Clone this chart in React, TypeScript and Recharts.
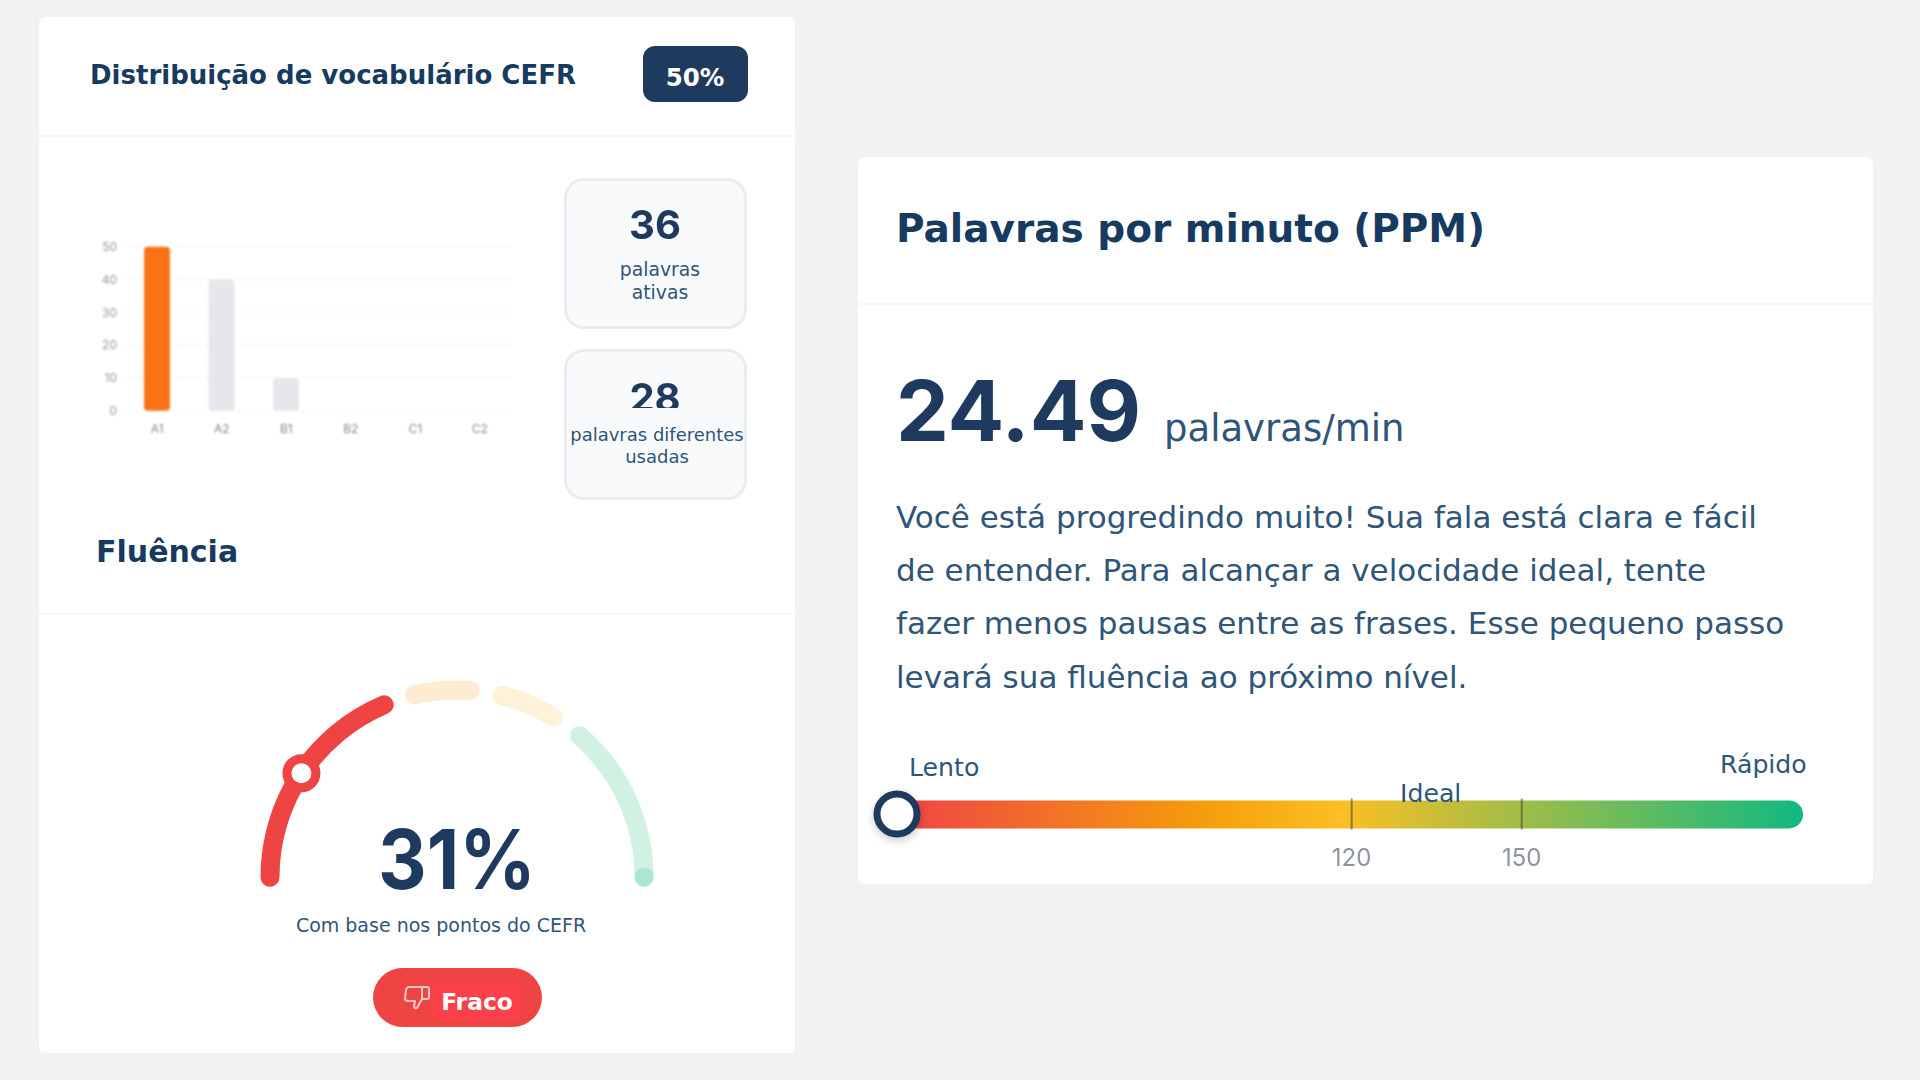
import React from 'react';
import {
  Bar,
  BarChart,
  CartesianGrid,
  Cell,
  Pie,
  PieChart,
  ReferenceDot,
  ReferenceLine,
  XAxis,
  YAxis,
} from 'recharts';

const NAVY = '#1e3a5f';
const TITLE = '#173a60';
const SLATE = '#2f5579';
const RED = '#ef4444';

// CEFR bars
const cefrLevels = ['A1', 'A2', 'B1', 'B2', 'C1', 'C2'];
const cefrValues = [50, 40, 10, 0, 0, 0];
const cefrTicks = [0, 10, 20, 30, 40, 50];
const cefrColors = ['#f97316', '#e5e7eb', '#e5e7eb', '#e5e7eb', '#e5e7eb', '#e5e7eb'];

// Gauge bands, in degrees of sweep
const gaugeBands = [73, 23, 23, 55];
const gaugeColors = [RED, '#feecd2', '#fef2d9', '#d1f2e3'];
const gaugeMarkerAngle = 146.3;

// PPM scale
const ppmDomain = [40, 199.6];
const ppmTicks = [120, 150];
const ppmValue = 24.49;

const paragraph = [
  'Você está progredindo muito! Sua fala está clara e fácil',
  'de entender. Para alcançar a velocidade ideal, tente',
  'fazer menos pausas entre as frases. Esse pequeno passo',
  'levará sua fluência ao próximo nível.',
];

const SANS = '"DejaVu Sans", sans-serif';
const NUM = 'Inter, sans-serif';

const cefrData = cefrLevels.map((level, i) => ({ level, value: cefrValues[i] }));
const gaugeData = gaugeBands.map((value, i) => ({ name: `band${i}`, value }));
const ppmData = [{ name: 'ppm', value: ppmDomain[1] }];

const box = (
  left: number,
  top: number,
  width: number,
  height: number,
  extra: React.CSSProperties = {},
): React.CSSProperties => ({ position: 'absolute', left, top, width, height, ...extra });

const GAUGE_LEFT = 230;
const GAUGE_TOP = 660;
const GAUGE_CX = 227;
const GAUGE_CY = 217;
const GAUGE_R = 187;

function polar(angle: number) {
  const rad = (angle * Math.PI) / 180;
  return {
    x: GAUGE_LEFT + GAUGE_CX + GAUGE_R * Math.cos(rad),
    y: GAUGE_TOP + GAUGE_CY - GAUGE_R * Math.sin(rad),
  };
}

export default function App() {
  const marker = polar(gaugeMarkerAngle);
  const gaugeEnd = polar(0);

  return (
    <div style={box(0, 0, 1920, 1080, { position: 'fixed', background: '#f3f2f0', fontFamily: SANS, overflow: 'hidden' })}>
      {/* cards */}
      <div style={box(39, 17, 756, 1036, { background: '#fff', borderRadius: 6 })} />
      <div style={box(858, 157, 1015, 727, { background: '#fff', borderRadius: 6 })} />
      <div style={box(39, 135, 756, 2, { background: '#f5f6f8' })} />
      <div style={box(39, 613, 756, 2, { background: '#f5f6f8' })} />
      <div style={box(858, 303, 1015, 2, { background: '#f5f6f8' })} />
      <div style={box(643, 46, 105, 56, { background: NAVY, borderRadius: 12 })} />
      <div style={box(564, 178, 183, 151, { background: '#f8fafc', border: '3px solid #e9ecf0', borderRadius: 20, boxSizing: 'border-box' })} />
      <div style={box(564, 349, 183, 151, { background: '#f8fafc', border: '3px solid #e9ecf0', borderRadius: 20, boxSizing: 'border-box' })} />
      <div style={box(373, 968, 169, 59, { background: RED, borderRadius: 30 })} />
      <div style={box(434, 982, 86, 38, { background: '#fb4049' })} />

      {/* CEFR bar chart */}
      <div style={box(80, 230, 440, 220, { filter: 'blur(0.9px)' })}>
        <BarChart
          width={440}
          height={220}
          data={cefrData}
          margin={{ top: 16.7, right: 8, bottom: 9.3, left: 0 }}
          barCategoryGap={0}
        >
          <CartesianGrid vertical={false} stroke="#f4f5f7" />
          <XAxis
            dataKey="level"
            height={30}
            axisLine={false}
            tickLine={false}
            tickMargin={8}
            tick={{ fontSize: 12, fill: '#7f8795', fontFamily: NUM }}
          />
          <YAxis
            width={45}
            domain={[0, 50]}
            ticks={cefrTicks}
            axisLine={false}
            tickLine={false}
            tick={{ fontSize: 12, fill: '#8f97a4', fontFamily: NUM }}
          />
          <Bar dataKey="value" barSize={26} radius={4} isAnimationActive={false}>
            {cefrLevels.map((level, i) => (
              <Cell key={level} fill={cefrColors[i]} />
            ))}
          </Bar>
        </BarChart>
      </div>

      {/* Gauge */}
      <div style={box(GAUGE_LEFT, GAUGE_TOP, 450, 300)}>
        <PieChart width={450} height={300} margin={{ top: 0, right: 0, bottom: 0, left: 0 }}>
          <Pie
            data={gaugeData}
            dataKey="value"
            cx={GAUGE_CX}
            cy={GAUGE_CY}
            startAngle={183}
            endAngle={-3}
            innerRadius={177.5}
            outerRadius={196.5}
            cornerRadius={9.5}
            paddingAngle={4}
            stroke="none"
            isAnimationActive={false}
          >
            {gaugeBands.map((_, i) => (
              <Cell key={i} fill={gaugeColors[i]} />
            ))}
          </Pie>
        </PieChart>
      </div>

      {/* PPM scale */}
      <div style={box(858, 780, 1000, 100)}>
        <BarChart
          width={1000}
          height={100}
          layout="vertical"
          data={ppmData}
          margin={{ top: 18.5, right: 55, bottom: 10.5, left: 40 }}
          barCategoryGap={0}
        >
          <defs>
            <linearGradient id="ppmGradient" x1="0" y1="0" x2="1" y2="0">
              <stop offset="0%" stopColor="#ef4444" />
              <stop offset="34%" stopColor="#f59e0b" />
              <stop offset="49%" stopColor="#fbbf24" />
              <stop offset="100%" stopColor="#10b981" />
            </linearGradient>
          </defs>
          <XAxis
            type="number"
            domain={ppmDomain}
            ticks={ppmTicks}
            height={40}
            axisLine={false}
            tickLine={false}
            tickMargin={13}
            tick={{ fontSize: 24, fill: '#8d949f', fontFamily: NUM, style: { filter: 'blur(0.6px)' } }}
          />
          <YAxis type="category" dataKey="name" hide />
          <Bar dataKey="value" barSize={31} radius={15.5} fill="url(#ppmGradient)" isAnimationActive={false} />
          {ppmTicks.map((t) => (
            <ReferenceLine key={t} x={t} stroke="rgba(60,60,60,0.55)" strokeWidth={2} />
          ))}
          <ReferenceDot
            x={Math.max(ppmValue, ppmDomain[0])}
            y="ppm"
            ifOverflow="visible"
            shape={(p: any) => (
              <circle
                cx={p.cx - 1}
                cy={p.cy}
                r={20}
                fill="#fff"
                stroke={NAVY}
                strokeWidth={7}
                style={{ filter: 'drop-shadow(0 3px 4px rgba(0,0,0,0.2))' }}
              />
            )}
          />
        </BarChart>
      </div>
      <div style={box(1366, 778, 130, 21, { background: '#fff' })} />

      {/* text */}
      <svg width={1920} height={1080} style={box(0, 0, 1920, 1080)}>
        <circle cx={gaugeEnd.x} cy={gaugeEnd.y} r={9.5} fill="#a9e7d0" />
        <circle cx={marker.x} cy={marker.y} r={14.5} fill="#fff" stroke={RED} strokeWidth={9} />
        <g fontFamily={SANS}>
          <text x={90} y={84} fontSize={26} fontWeight={700} fill={TITLE}>Distribuição de vocabulário CEFR</text>
          <text x={695} y={86} fontSize={24.5} fontWeight={700} fill="#fff" textAnchor="middle">50%</text>
          <text x={660} y={276} fontSize={18.8} fill={SLATE} textAnchor="middle">palavras</text>
          <text x={660} y={299} fontSize={18.8} fill={SLATE} textAnchor="middle">ativas</text>
          <text x={657} y={441} fontSize={18} fill={SLATE} textAnchor="middle">palavras diferentes</text>
          <text x={657} y={463} fontSize={18} fill={SLATE} textAnchor="middle">usadas</text>
          <text x={96} y={562} fontSize={30} fontWeight={700} fill={TITLE}>Fluência</text>
          <text x={441} y={932} fontSize={19} fill={SLATE} textAnchor="middle">Com base nos pontos do CEFR</text>
          <text x={477} y={1010} fontSize={23.4} fontWeight={700} fill="#fff" textAnchor="middle">Fraco</text>
          <text x={896} y={242} fontSize={39} fontWeight={700} fill={TITLE}>Palavras por minuto (PPM)</text>
          <text x={1164} y={441} fontSize={37} fill={SLATE}>palavras/min</text>
          {paragraph.map((line, i) => (
            <text key={line} x={896} y={528 + i * 53.2} fontSize={31} fill={SLATE}>{line}</text>
          ))}
          <text x={909} y={776} fontSize={25.2} fill={SLATE}>Lento</text>
          <text x={1400} y={802} fontSize={25.2} fill={SLATE}>Ideal</text>
          <text x={1720} y={773} fontSize={25.2} fill={SLATE}>Rápido</text>
        </g>
        <g fontFamily={NUM} fontWeight={700} fill={NAVY} style={{ filter: 'blur(0.6px)' }}>
          <text x={655} y={239} fontSize={40} textAnchor="middle">36</text>
          <clipPath id="clip28"><rect x={600} y={370} width={120} height={38} /></clipPath>
          <text x={655} y={412} fontSize={40} textAnchor="middle" clipPath="url(#clip28)">28</text>
          <text transform="translate(457 889) scale(0.92 1)" fontSize={82} textAnchor="middle">31%</text>
          <text x={896} y={441} fontSize={84}>24.49</text>
        </g>
        <path
          d="M409 987 h13 v12 l-5 9 q-3 1 -3 -2 l1 -5 h-7 q-3 0 -3 -3 l1 -8 q1 -3 3 -3 z M423 987 h4 q2 0 2 2 v8 q0 2 -2 2 h-4"
          fill="none"
          stroke="#ffc9c9"
          strokeWidth={2}
          strokeLinejoin="round"
        />
      </svg>
    </div>
  );
}
